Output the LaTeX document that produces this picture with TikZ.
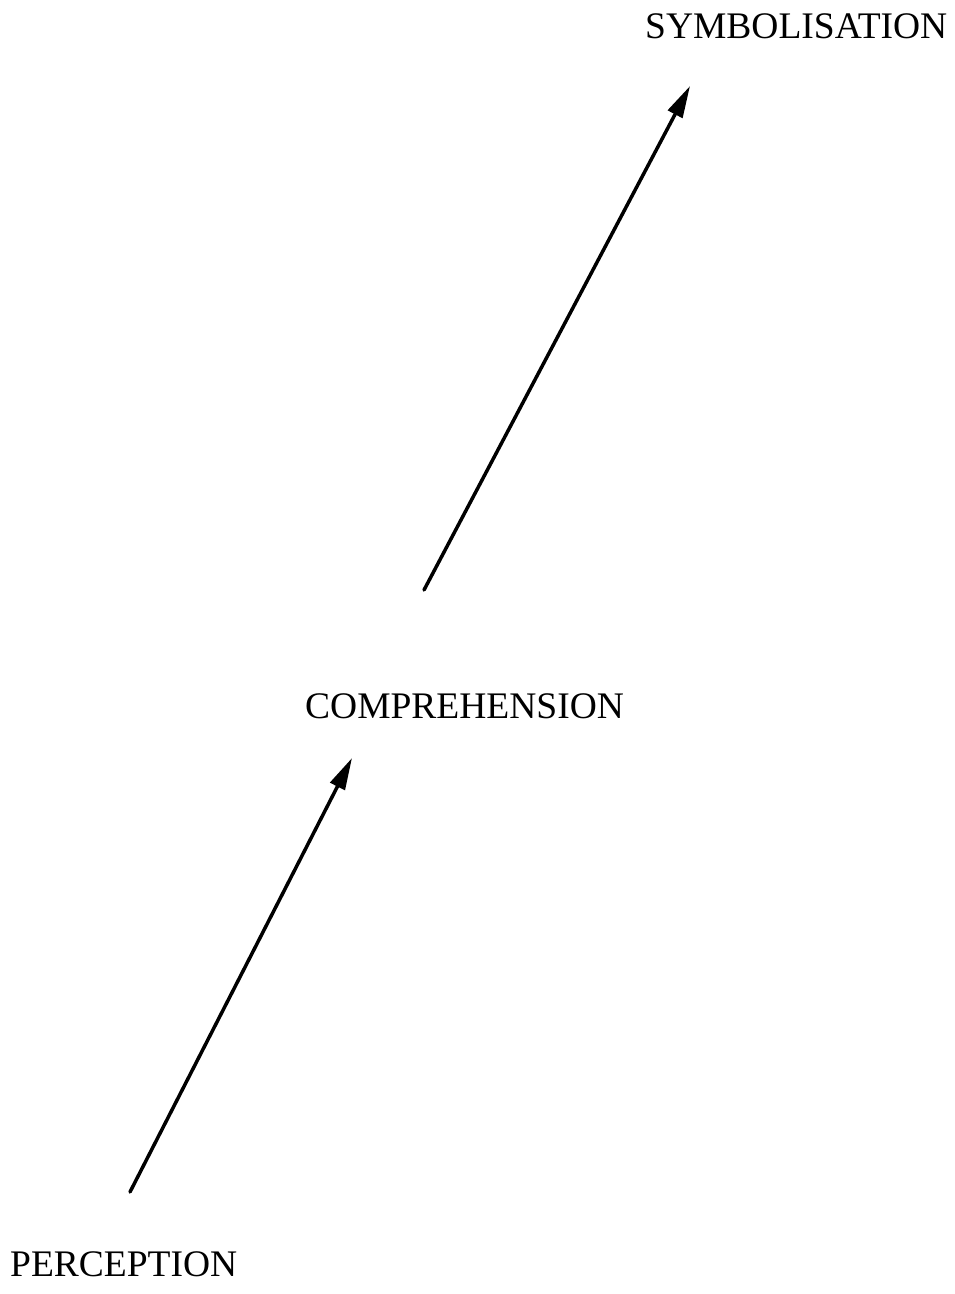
\documentclass[tikz,border=0pt]{standalone}
\usepackage{fontspec}
\setmainfont{Liberation Serif}
\usetikzlibrary{arrows.meta}
\begin{document}
\begin{tikzpicture}[x=1pt,y=-1pt,
  label/.style={anchor=base west,inner sep=0pt,font=\fontsize{37.5}{42}\selectfont},
  conn/.style={line width=3.5pt,-{Triangle[length=32pt,width=16pt]},line cap=round}]
\useasboundingbox (0,0) rectangle (955,1294);
\node[label] (symb) at (645,38) {SYMBOLISATION};
\node[label] (comp) at (305,718) {COMPREHENSION};
\node[label] (perc) at (10,1276) {PERCEPTION};
\coordinate (a1s) at (130,1192);
\coordinate (a1e) at (352,758);
\coordinate (a2s) at (424,590);
\coordinate (a2e) at (690,86);
\draw[conn] (a1s) -- (a1e);
\draw[conn] (a2s) -- (a2e);
\end{tikzpicture}
\end{document}
